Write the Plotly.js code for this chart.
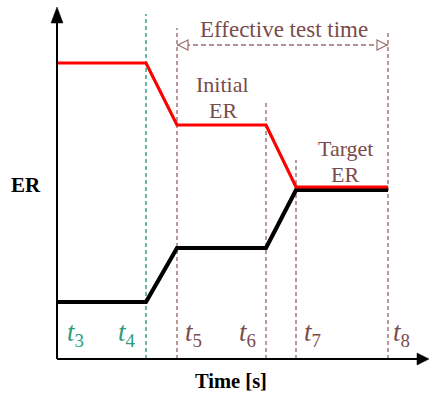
<!DOCTYPE html>
<html>
<head>
<meta charset="utf-8">
<script src="https://cdn.plot.ly/plotly-3.0.1.min.js"></script>
<style>html,body{margin:0;padding:0;background:#fff;}#chart{width:430px;height:396px;}</style>
</head>
<body>
<div id="chart"></div>
<script>
// Time instants t3..t8 (arbitrary units)
var timeNames = ['3', '4', '5', '6', '7', '8'];
var timePoints = [0, 8.9, 12.0, 20.9, 23.9, 33.1];
// ER trajectories
var erUpper = [29.6, 29.6, 23.4, 23.4, 17.2, 17.2];
var erLower = [5.7, 5.7, 11.1, 11.1, 16.9, 16.9];
// Marker lines: time index and top value
var markerIdx = [1, 2, 3, 4, 5];
var markerTop = [34.5, 33.1, 25.9, 19.9, 32.6];
var effectiveY = 31.4;
var axisTopY = 35.2;
var axisRightX = 37.2;

var GREEN = '#2e9a7c';
var BROWN = '#9c6e6e';
var BROWN_TXT = '#7a4b4b';
var SERIF = 'Liberation Serif, Times New Roman, serif';

var traces = [
  {x: timePoints, y: erLower, mode: 'lines', line: {color: '#000', width: 4.2}, hoverinfo: 'skip', showlegend: false},
  {x: timePoints, y: erUpper, mode: 'lines', line: {color: '#ff0000', width: 3.2}, hoverinfo: 'skip', showlegend: false}
];

var shapes = [];
markerIdx.forEach(function (k, i) {
  shapes.push({type: 'line', xref: 'x', yref: 'y', x0: timePoints[k], x1: timePoints[k], y0: 0, y1: markerTop[i],
    line: {color: k === 1 ? GREEN : BROWN, width: 1.4, dash: '4px,3px'}, layer: 'below'});
});
shapes.push({type: 'line', xref: 'x', yref: 'y', x0: timePoints[2], x1: timePoints[5], y0: effectiveY, y1: effectiveY,
  line: {color: BROWN, width: 1.3, dash: '5px,3px'}});
shapes.push({type: 'path', xref: 'x', yref: 'y', xsizemode: 'pixel', ysizemode: 'pixel',
  xanchor: timePoints[2], yanchor: effectiveY, path: 'M 11 5 L 1 0 L 11 -5 Z',
  line: {color: BROWN, width: 1.2}, fillcolor: 'rgba(255,255,255,1)'});
shapes.push({type: 'path', xref: 'x', yref: 'y', xsizemode: 'pixel', ysizemode: 'pixel',
  xanchor: timePoints[5], yanchor: effectiveY, path: 'M -11 5 L -1 0 L -11 -5 Z',
  line: {color: BROWN, width: 1.2}, fillcolor: 'rgba(255,255,255,1)'});
shapes.push({type: 'line', xref: 'x', yref: 'y', x0: 0, x1: 0, y0: 0, y1: axisTopY - 1.2, line: {color: '#000', width: 2}});
shapes.push({type: 'line', xref: 'x', yref: 'y', x0: 0, x1: axisRightX - 1.0, y0: 0, y1: 0, line: {color: '#000', width: 2}});
shapes.push({type: 'path', xref: 'x', yref: 'y', xsizemode: 'pixel', ysizemode: 'pixel',
  xanchor: 0, yanchor: axisTopY, path: 'M 0 0 L -6 -16 L 6 -16 Z', line: {color: '#000', width: 0.5}, fillcolor: '#000'});
shapes.push({type: 'path', xref: 'x', yref: 'y', xsizemode: 'pixel', ysizemode: 'pixel',
  xanchor: axisRightX, yanchor: 0, path: 'M 0 0 L -12 6 L -12 -6 Z', line: {color: '#000', width: 0.5}, fillcolor: '#000'});

var W = 430, H = 396, ml = 50, mr = 0, mt = 6, mb = 30;
var pw = W - ml - mr, ph = H - mt - mb;

var annotations = [];
var labelSide = [1, -1, 1, -1, 1, 1];
var labelOffset = [18, 19, 16, 19, 16, 13];
timePoints.forEach(function (t, i) {
  annotations.push({x: t, y: 0, xref: 'x', yref: 'y', text: '<i>t</i><sub>' + timeNames[i] + '</sub>', showarrow: false,
    xanchor: 'center', yanchor: 'middle', xshift: labelSide[i] * labelOffset[i], yshift: 25,
    font: {family: SERIF, size: 27, color: i < 2 ? GREEN : BROWN_TXT}});
});
annotations.push({x: (timePoints[2] + timePoints[5]) / 2 + 0.1, y: effectiveY, xref: 'x', yref: 'y', text: 'Effective test time',
  showarrow: false, yanchor: 'bottom', yshift: 1, font: {family: SERIF, size: 23, color: BROWN_TXT}});
function label(x, y, txt, dy) {
  annotations.push({x: x, y: y, xref: 'x', yref: 'y', text: txt, showarrow: false,
    xanchor: 'center', yanchor: 'middle', yshift: dy, font: {family: SERIF, size: 22, color: BROWN_TXT}});
}
var midInit = (timePoints[2] + timePoints[3]) / 2 + 0.1;
var midTarget = (timePoints[4] + timePoints[5]) / 2 + 0.3;
label(midInit, erUpper[2], 'Initial', 41);
label(midInit, erUpper[2], 'ER', 15);
label(midTarget, erUpper[4], 'Target', 39);
label(midTarget, erUpper[4], 'ER', 13);
annotations.push({x: (231 - ml) / pw, y: (H - mb - 381) / ph, xref: 'paper', yref: 'paper',
  text: '<b>Time [s]</b>', showarrow: false, xanchor: 'center', yanchor: 'middle',
  font: {family: SERIF, size: 20.5, color: '#000'}});
annotations.push({x: (26 - ml) / pw, y: (H - mb - 185) / ph, xref: 'paper', yref: 'paper',
  text: '<b>ER</b>', showarrow: false, xanchor: 'center', yanchor: 'middle',
  font: {family: SERIF, size: 21, color: '#000'}});

var layout = {
  width: W, height: H,
  margin: {l: ml, r: mr, t: mt, b: mb, pad: 0},
  paper_bgcolor: '#ffffff', plot_bgcolor: '#ffffff',
  xaxis: {range: [-0.7, 37.3], visible: false, fixedrange: true},
  yaxis: {range: [-0.7, 35.3], visible: false, fixedrange: true},
  shapes: shapes,
  annotations: annotations,
  showlegend: false
};

Plotly.newPlot('chart', traces, layout, {displayModeBar: false, staticPlot: true});
</script>
</body>
</html>
